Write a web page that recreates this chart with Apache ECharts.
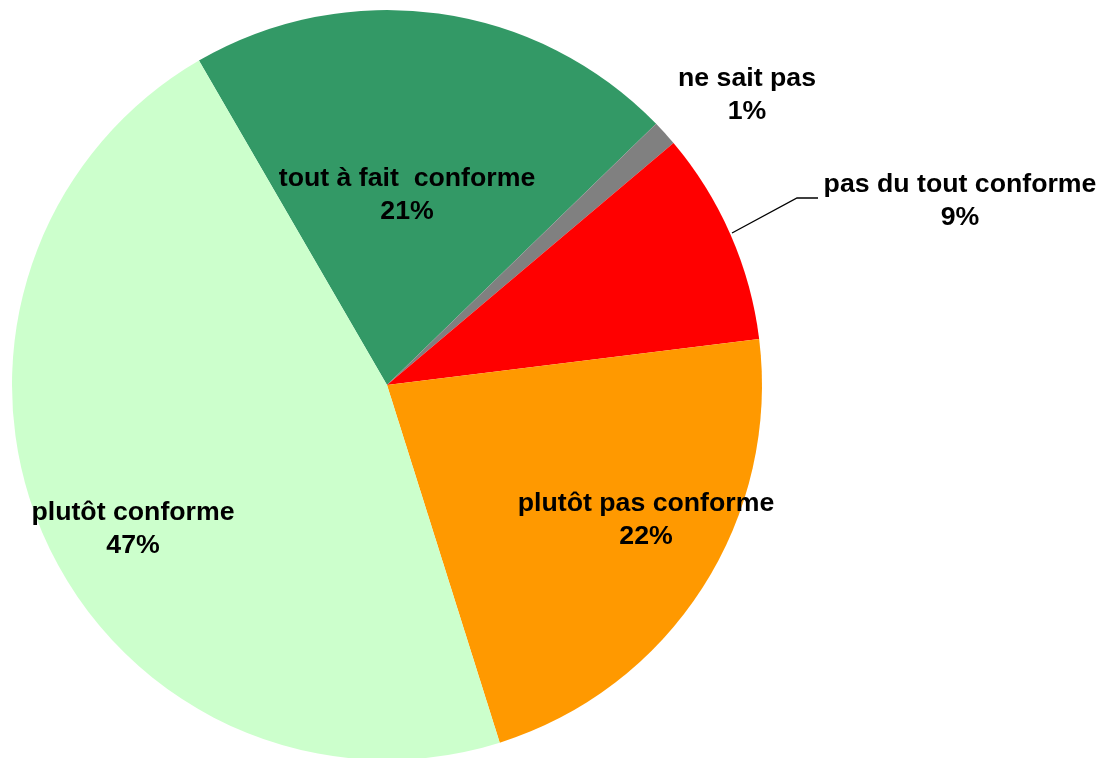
<!DOCTYPE html>
<html>
<head>
<meta charset="utf-8">
<script src="https://cdn.jsdelivr.net/npm/echarts@6/dist/echarts.min.js"></script>
<style>
html,body{margin:0;padding:0;background:#fff;}
#chart{width:1103px;height:758px;}
</style>
</head>
<body>
<div id="chart"></div>
<script>
// Data (clockwise from the dark-green slice)
var categories = ['tout à fait  conforme', 'ne sait pas', 'pas du tout conforme', 'plutôt pas conforme', 'plutôt conforme'];
var values = [21.1, 1.1, 9.2, 22.1, 46.5];
var colors = ['#339966', '#808080', '#FF0000', '#FF9900', '#CCFFCC'];

// label layout (centres of label blocks) — styling/position only
var labelCenters = [[407, 195], [747, 95], [960, 201], [646, 520], [133, 529]];
var labelOutside = [false, true, true, false, false];

var chart = echarts.init(document.getElementById('chart'), null, {renderer: 'canvas'});

var data = categories.map(function (c, i) {
  return {
    name: c,
    value: values[i],
    itemStyle: {color: colors[i]},
    label: {position: labelOutside[i] ? 'outside' : 'inside'},
    labelLine: {show: i === 2}
  };
});

chart.setOption({
  animation: false,
  series: [{
    type: 'pie',
    center: [387, 385],
    radius: 375,
    startAngle: 120.1,
    clockwise: true,
    avoidLabelOverlap: false,
    itemStyle: {borderWidth: 0},
    emphasis: {disabled: true},
    label: {
      show: true,
      color: '#000',
      fontFamily: '"Liberation Sans", Arial, sans-serif',
      fontWeight: 'bold',
      fontSize: 26.7,
      lineHeight: 33,
      align: 'center',
      formatter: function (p) {
        return p.name + '\n' + Math.round(p.percent) + '%';
      }
    },
    labelLine: {
      lineStyle: {color: '#000', width: 1.3},
      length: 20,
      length2: 20
    },
    labelLayout: function (params) {
      var c = labelCenters[params.dataIndex];
      var r = {x: c[0], y: c[1], align: 'center', verticalAlign: 'middle'};
      if (params.dataIndex === 2) {
        r.labelLinePoints = [[732, 233], [797, 198], [818, 198]];
      }
      return r;
    },
    data: data
  }]
});
</script>
</body>
</html>
